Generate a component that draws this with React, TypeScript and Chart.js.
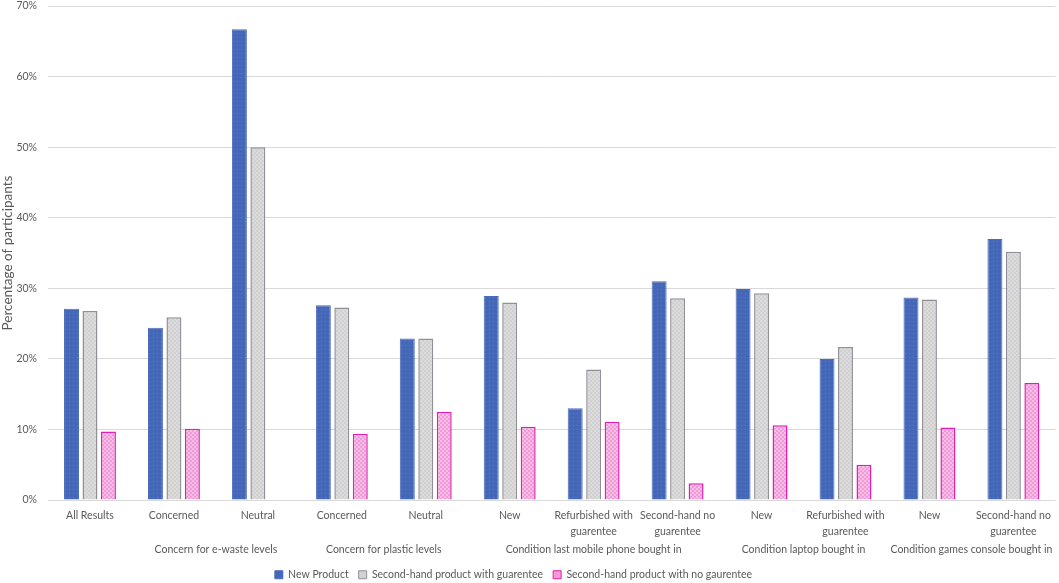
import React, { useEffect, useRef } from "react";
import { Chart, registerables } from "chart.js";

Chart.register(...registerables);

const categories: (string | string[])[] = [
  ["All Results"],
  ["Concerned"],
  ["Neutral"],
  ["Concerned"],
  ["Neutral"],
  ["New"],
  ["Refurbished with", "guarentee"],
  ["Second-hand no", "guarentee"],
  ["New"],
  ["Refurbished with", "guarentee"],
  ["New"],
  ["Second-hand no", "guarentee"],
];

const groupLabels = [
  "Concern for e-waste levels",
  "Concern for plastic levels",
  "Condition last mobile phone bought in",
  "Condition laptop bought in",
  "Condition games console bought in",
];
const groupFirst = [1, 3, 5, 8, 10];
const groupLast = [2, 4, 7, 9, 11];

const seriesNames = [
  "New Product",
  "Second-hand product with guarentee",
  "Second-hand product with no gaurentee",
];

const newProduct = [27.1, 24.4, 66.7, 27.6, 22.9, 28.9, 13.0, 31.0, 29.9, 20.0, 28.7, 37.0];
const secondHandGuarantee = [26.8, 25.9, 50.0, 27.3, 22.9, 28.0, 18.5, 28.6, 29.3, 21.7, 28.4, 35.2];
const secondHandNoGuarantee = [9.7, 10.1, 0, 9.4, 12.5, 10.4, 11.1, 2.4, 10.6, 5.0, 10.3, 16.6];

const yTicksMax = 70;
const yTicksStep = 10;

const FONT = "Lato, 'Noto Sans', sans-serif";
const FS = 10.5;
const TEXT = "#595959";

function makePattern(base: string, spot: string, kind: "dot" | "check"): CanvasPattern | string {
  const c = document.createElement("canvas");
  c.width = 4;
  c.height = 4;
  const g = c.getContext("2d");
  if (!g) return base;
  g.fillStyle = base;
  g.fillRect(0, 0, 4, 4);
  g.fillStyle = spot;
  if (kind === "dot") {
    g.fillRect(1, 1, 1, 1);
  } else {
    g.fillRect(0, 0, 2, 2);
    g.fillRect(2, 2, 2, 2);
  }
  const p = g.createPattern(c, "repeat");
  return p || base;
}

const groupLabelPlugin = {
  id: "groupLabels",
  afterLayout(chart: any) {
    const lg = chart.legend;
    if (lg) {
      lg.left -= 15;
      lg.right -= 15;
    }
  },
  afterDraw(chart: any) {
    const xs = chart.scales.x;
    const ctx = chart.ctx;
    ctx.save();
    ctx.font = `${FS}px ${FONT}`;
    ctx.fillStyle = TEXT;
    ctx.textAlign = "center";
    ctx.textBaseline = "middle";
    groupLabels.forEach((lab, i) => {
      const a = xs.getPixelForValue(groupFirst[i]);
      const b = xs.getPixelForValue(groupLast[i]);
      ctx.fillText(lab, (a + b) / 2, xs.bottom - 9.5);
    });
    ctx.restore();
  },
};

export default function App() {
  const ref = useRef<HTMLCanvasElement | null>(null);

  useEffect(() => {
    document.body.style.margin = "0";
    if (!ref.current) return;
    const bluePat = makePattern("#4467b8", "#5a7cc8", "dot");
    const grayPat = makePattern("#d0d0d0", "#dcdcdc", "check");
    const pinkPat = makePattern("#f09ad8", "#f6bde6", "check");

    const solid = ["#4467b8", "#d2d2d2", "#f29ad6"];
    const borders = ["#4a6cbc", "#938f98", "#e020b0"];

    const chart = new Chart(ref.current, {
      type: "bar",
      data: {
        labels: categories as any,
        datasets: [
          {
            label: seriesNames[0],
            data: newProduct,
            backgroundColor: bluePat as any,
            borderColor: borders[0],
            borderWidth: 1,
          },
          {
            label: seriesNames[1],
            data: secondHandGuarantee,
            backgroundColor: grayPat as any,
            borderColor: borders[1],
            borderWidth: 1.5,
          },
          {
            label: seriesNames[2],
            data: secondHandNoGuarantee,
            backgroundColor: pinkPat as any,
            borderColor: borders[2],
            borderWidth: 1.5,
          },
        ],
      },
      options: {
        animation: false,
        responsive: true,
        maintainAspectRatio: false,
        layout: { padding: { top: 0, right: 2, left: 0, bottom: -7 } },
        datasets: {
          bar: { categoryPercentage: 0.66, barPercentage: 0.81 },
        } as any,
        plugins: {
          legend: {
            position: "bottom",
            labels: {
              boxWidth: 8,
              boxHeight: 8,
              padding: 10,
              color: TEXT,
              font: { family: FONT, size: FS },
              generateLabels: () =>
                seriesNames.map((n, i) => ({
                  text: n,
                  fillStyle: solid[i],
                  strokeStyle: borders[i],
                  lineWidth: 1,
                  datasetIndex: i,
                  hidden: false,
                  fontColor: TEXT,
                })),
            },
          },
          tooltip: { enabled: false },
        },
        scales: {
          x: {
            grid: { display: false, drawTicks: false },
            border: { display: false },
            ticks: {
              color: TEXT,
              font: { family: FONT, size: FS, lineHeight: 1.52 },
              maxRotation: 0,
              autoSkip: false,
              padding: 8,
            },
            afterFit: (scale: any) => {
              scale.height += 11.5;
            },
          },
          y: {
            min: 0,
            max: yTicksMax,
            grid: { color: "#d9d9d9", lineWidth: 1, drawTicks: false },
            border: { display: false },
            ticks: {
              stepSize: yTicksStep,
              color: TEXT,
              font: { family: FONT, size: FS },
              padding: 11,
              callback: (v: any) => `${v}%`,
            },
            title: {
              display: true,
              text: "Percentage of participants",
              color: TEXT,
              font: { family: FONT, size: 13.5 },
              padding: { top: 0, bottom: 2 },
            },
            afterFit: (scale: any) => {
              scale.width = 48;
              scale.paddingTop = 6;
              scale.paddingBottom = 6;
            },
          },
        },
      },
      plugins: [groupLabelPlugin],
    });
    return () => chart.destroy();
  }, []);

  return (
    <div style={{ width: 1059, height: 583, position: "relative", background: "#fff" }}>
      <canvas ref={ref} />
    </div>
  );
}
